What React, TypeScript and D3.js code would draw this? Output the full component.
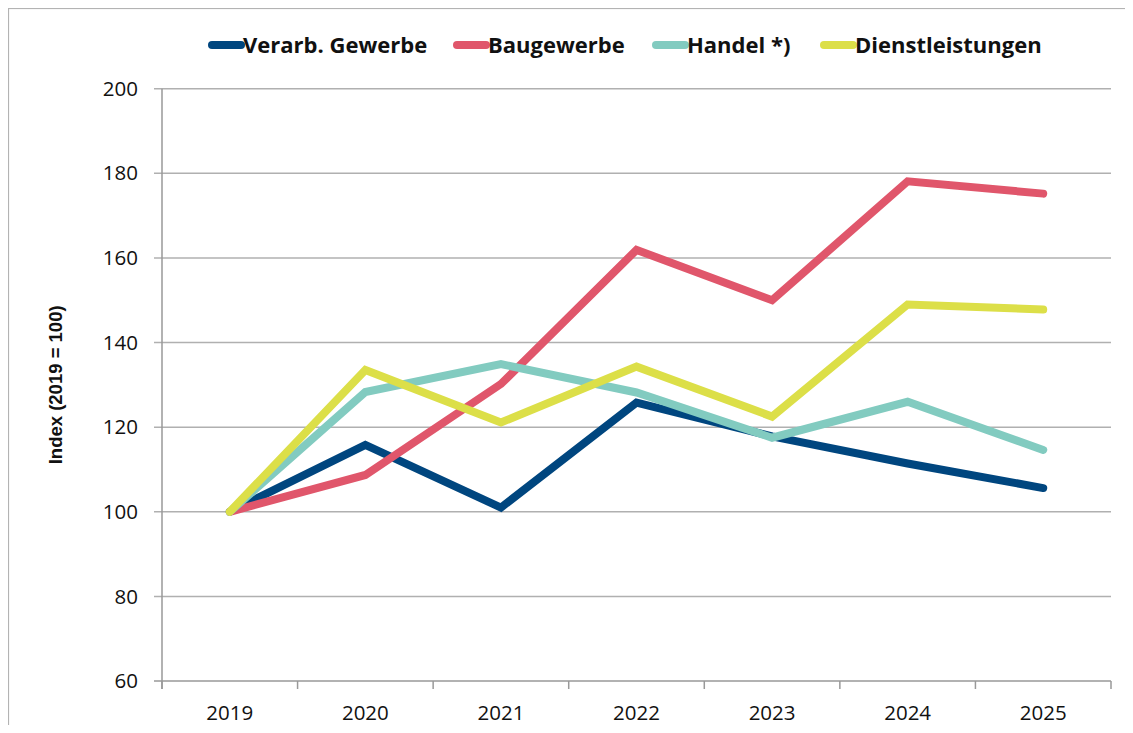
import React, { useEffect, useRef } from 'react';
import * as d3 from 'd3';

const years = ['2019', '2020', '2021', '2022', '2023', '2024', '2025'];
const verarbGewerbe = [100, 115.8, 101, 125.8, 117.8, 111.4, 105.6];
const baugewerbe = [100, 108.7, 130.2, 161.9, 150, 178.1, 175.2];
const handel = [100, 128.3, 134.9, 128.2, 117.5, 126, 114.6];
const dienstleistungen = [100, 133.5, 121.1, 134.3, 122.5, 149, 147.8];
const seriesNames = ['Verarb. Gewerbe', 'Baugewerbe', 'Handel *)', 'Dienstleistungen'];
const seriesColors = ['#00467f', '#e0566b', '#82cbc0', '#dcdf48'];
const yTicks = [60, 80, 100, 120, 140, 160, 180, 200];

const W = 1125;
const H = 725;

const App = () => {
  const ref = useRef<SVGSVGElement>(null);

  useEffect(() => {
    const svg = d3.select(ref.current);
    svg.selectAll('*').remove();

    const seriesValues = [verarbGewerbe, baugewerbe, handel, dienstleistungen];
    const margin = { left: 154, right: 22, top: 80.7, bottom: 52 };
    const x = d3.scaleBand().domain(years).range([margin.left, W - margin.right]);
    const y = d3.scaleLinear().domain([60, 200]).range([H - margin.bottom, margin.top]);

    // outer frame
    svg.append('rect')
      .attr('x', 0.5).attr('y', 0.5)
      .attr('width', W + 20).attr('height', H + 20)
      .attr('fill', '#fff').attr('stroke', '#b3b3b3').attr('stroke-width', 1.2);

    // grid
    svg.append('g')
      .selectAll('line')
      .data(yTicks)
      .join('line')
      .attr('x1', margin.left - 8).attr('x2', W - margin.right)
      .attr('y1', d => y(d)).attr('y2', d => y(d))
      .attr('stroke', d => (d === 60 ? '#999' : '#b0b0b0'))
      .attr('stroke-width', 1.5);

    svg.append('g')
      .selectAll('text')
      .data(yTicks)
      .join('text')
      .attr('x', margin.left - 24)
      .attr('y', d => y(d))
      .attr('dy', '0.35em')
      .attr('text-anchor', 'end')
      .attr('font-family', 'Open Sans')
      .attr('font-size', 20.5)
      .attr('fill', '#111')
      .text(d => d);

    // y axis line
    svg.append('line')
      .attr('x1', margin.left).attr('x2', margin.left)
      .attr('y1', y(200)).attr('y2', y(60) + 8)
      .attr('stroke', '#999').attr('stroke-width', 1.5);

    // x ticks
    const tickXs = years.map(d => x(d)!).concat([x.range()[1]]);
    svg.append('g')
      .selectAll('line')
      .data(tickXs)
      .join('line')
      .attr('x1', d => d).attr('x2', d => d)
      .attr('y1', y(60)).attr('y2', y(60) + 8)
      .attr('stroke', '#999').attr('stroke-width', 1.5);

    svg.append('g')
      .selectAll('text')
      .data(years)
      .join('text')
      .attr('x', d => x(d)! + x.bandwidth() / 2)
      .attr('y', y(60) + 32)
      .attr('dy', '0.35em')
      .attr('text-anchor', 'middle')
      .attr('font-family', 'Open Sans')
      .attr('font-size', 20.5)
      .attr('fill', '#111')
      .text(d => d);

    // y axis title
    svg.append('text')
      .attr('transform', `translate(${48},${(y(60) + y(200)) / 2}) rotate(-90)`)
      .attr('dy', '0.35em')
      .attr('text-anchor', 'middle')
      .attr('font-family', 'Liberation Sans')
      .attr('font-weight', 'bold')
      .attr('font-size', 18.5)
      .attr('fill', '#111')
      .text('Index (2019 = 100)');

    // lines
    const line = d3.line<number>()
      .x((_, i) => x(years[i])! + x.bandwidth() / 2)
      .y(d => y(d));

    svg.append('g')
      .selectAll('path')
      .data(seriesValues)
      .join('path')
      .attr('d', d => line(d))
      .attr('fill', 'none')
      .attr('stroke', (_, i) => seriesColors[i])
      .attr('stroke-width', 8)
      .attr('stroke-linecap', 'round')
      .attr('stroke-linejoin', 'miter');

    // legend
    const legendX = [201, 446, 645, 813];
    const legend = svg.append('g')
      .selectAll('g')
      .data(seriesNames)
      .join('g')
      .attr('transform', (_, i) => `translate(${legendX[i]},${37})`);
    legend.append('line')
      .attr('x1', 3).attr('x2', 32)
      .attr('y1', 0).attr('y2', 0)
      .attr('stroke', (_, i) => seriesColors[i])
      .attr('stroke-width', 8)
      .attr('stroke-linecap', 'round');
    legend.append('text')
      .attr('x', 34)
      .attr('dy', '0.35em')
      .attr('font-family', 'Open Sans')
      .attr('font-weight', 'bold')
      .attr('font-size', 22)
      .attr('fill', '#111')
      .text(d => d);
  }, []);

  return (
    <div style={{ height: 717, overflow: 'hidden' }}>
      <svg ref={ref} width={W} height={H} style={{ display: 'block' }} />
    </div>
  );
};

export default App;
